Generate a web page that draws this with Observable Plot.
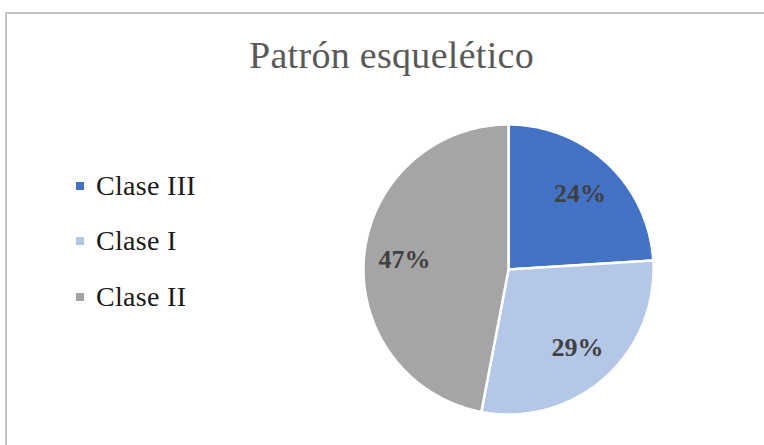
<!DOCTYPE html>
<html>
<head>
<meta charset="utf-8">
<script src="https://cdn.jsdelivr.net/npm/d3@7"></script>
<script src="https://cdn.jsdelivr.net/npm/@observablehq/plot@0.6"></script>
<style>
  html, body { margin: 0; padding: 0; background: #fff; overflow: hidden; }
  #wrap { position: relative; width: 764px; height: 445px; overflow: hidden; font-family: "Liberation Serif", serif; }
  #frame { position: absolute; left: 5px; top: 12px; width: 820px; height: 500px; border: 2px solid #c4c4c4; box-sizing: border-box; }
  #title { position: absolute; left: 0; width: 783px; top: 36px; line-height: 1; text-align: center; font-size: 38px; color: #595959; letter-spacing: 0.3px; white-space: nowrap; }
  #legend { position: absolute; left: 76px; top: 158px; }
  .item { display: flex; align-items: center; height: 55.5px; font-size: 28px; color: #1a1a1a; letter-spacing: 0.3px; }
  .sw { width: 8px; height: 8px; margin-right: 12px; }
  #chart { position: absolute; left: 0; top: 0; }
</style>
</head>
<body>
<div id="wrap">
  <div id="frame"></div>
  <div id="title">Patrón esquelético</div>
  <div id="legend"></div>
  <div id="chart"></div>
</div>
<script>
const categories = ["Clase III", "Clase I", "Clase II"];
const values = [24, 29, 47];
const labels = ["24%", "29%", "47%"];
const palette = ["#4472C4", "#B4C7E7", "#A5A5A5"];

const arcs = d3.pie().sort(null).value(d => d)(values);

// wedge outlines (unit circle, angle measured clockwise from top)
const wedgePts = [];
arcs.forEach((a, i) => {
  const cat = categories[i];
  wedgePts.push({cat, x: 0, y: 0});
  const n = Math.max(2, Math.ceil((a.endAngle - a.startAngle) / (Math.PI / 180)));
  for (let k = 0; k <= n; k++) {
    const t = a.startAngle + (a.endAngle - a.startAngle) * k / n;
    wedgePts.push({cat, x: Math.sin(t), y: Math.cos(t)});
  }
  wedgePts.push({cat, x: 0, y: 0});
});

const labelPts = arcs.map((a, i) => {
  const m = (a.startAngle + a.endAngle) / 2;
  return {cat: categories[i], text: labels[i], x: 0.72 * Math.sin(m), y: 0.72 * Math.cos(m)};
});

const plot = Plot.plot({
  width: 764,
  height: 445,
  marginLeft: 363,
  marginRight: 111,
  marginTop: 124,
  marginBottom: 31,
  x: {domain: [-1, 1], axis: null},
  y: {domain: [-1, 1], axis: null},
  color: {domain: categories, range: palette},
  style: {background: "transparent", overflow: "visible"},
  marks: [
    Plot.line(wedgePts, {x: "x", y: "y", z: "cat", fill: "cat", stroke: "white", strokeWidth: 2.5, strokeLinejoin: "round", curve: "linear"}),
    Plot.text(labelPts, {x: "x", y: "y", text: "text", fill: "#404040", fontSize: 26, fontWeight: "bold", fontFamily: "Liberation Serif, serif"})
  ]
});
document.getElementById("chart").appendChild(plot);

const legend = document.getElementById("legend");
categories.forEach((c, i) => {
  const item = document.createElement("div");
  item.className = "item";
  const sw = document.createElement("div");
  sw.className = "sw";
  sw.style.background = palette[i];
  const tx = document.createElement("span");
  tx.textContent = c;
  item.appendChild(sw);
  item.appendChild(tx);
  legend.appendChild(item);
});
</script>
</body>
</html>
